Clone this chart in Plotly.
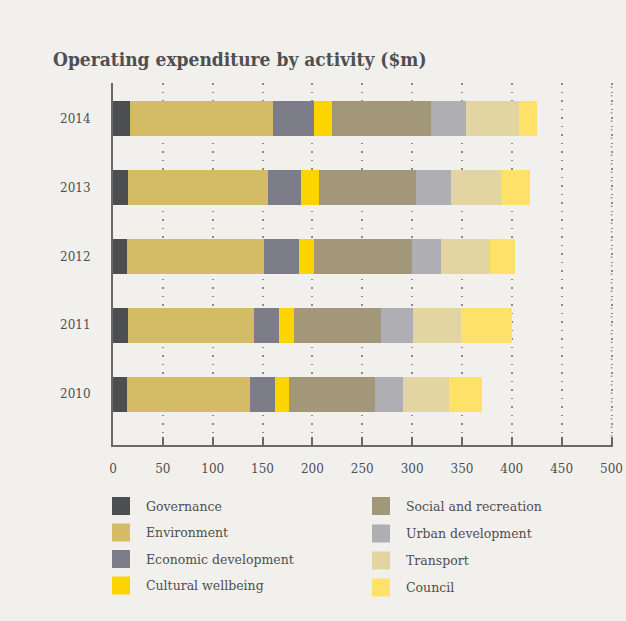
import plotly.graph_objects as go

# Operating expenditure ($m) by activity, per year
years = ["2010", "2011", "2012", "2013", "2014"]
activities = [
    "Governance", "Environment", "Economic development", "Cultural wellbeing",
    "Social and recreation", "Urban development", "Transport", "Council",
]
governance = [14, 15, 14, 15, 17]
environment = [123, 126, 137, 140.5, 143]
economic_development = [25, 25, 35.5, 33, 41.5]
cultural_wellbeing = [14.5, 15.5, 15.5, 18, 18.5]
social_recreation = [86, 87, 98, 97, 99]
urban_development = [28.5, 32, 29, 36, 35]
transport = [46.5, 49, 49.5, 51, 53]
council = [32.5, 51, 25, 28, 18]
x_ticks = [0, 50, 100, 150, 200, 250, 300, 350, 400, 450, 500]

series = [governance, environment, economic_development, cultural_wellbeing,
          social_recreation, urban_development, transport, council]
colors = ["#4c4e50", "#d4bb66", "#7c7d88", "#fcd400",
          "#a3977a", "#afaeb2", "#e3d5a1", "#fde169"]

BG = "#f2f0ed"
TXT = "#4e4e50"
BODY_FONT = "DejaVu Serif"
GRID = "#8a8a8a"
GRID_DASH = "1.5px,7px"

W, H = 626, 621
L, R, T, B = 113, 13, 83, 176
pw, ph = W - L - R, H - T - B

fig = go.Figure()
for name, vals, col in zip(activities, series, colors):
    fig.add_trace(go.Bar(
        y=years, x=vals, name=name, orientation="h",
        marker=dict(color=col, line=dict(width=0)),
        width=0.51, showlegend=False,
    ))

fig.update_layout(
    barmode="stack",
    width=W, height=H,
    margin=dict(l=L, r=R, t=T, b=B, pad=0, autoexpand=False),
    paper_bgcolor=BG, plot_bgcolor=BG,
    font=dict(family=BODY_FONT, color=TXT, size=12),
    title=dict(
        text="<b>Operating expenditure by activity ($m)</b>",
        font=dict(family="DejaVu Serif Condensed", size=19, color="#4f4f51"),
        x=53 / W, xanchor="left", xref="container",
        y=1 - 59 / H, yanchor="middle", yref="container",
    ),
    xaxis=dict(
        range=[0, 501.5], tickvals=x_ticks, ticktext=[str(v) for v in x_ticks],
        showgrid=True, gridcolor=GRID, gridwidth=1.5, griddash=GRID_DASH,
        zeroline=False, automargin=False,
        showline=True, linecolor="#6a6868", linewidth=2,
        ticks="inside", ticklen=8, tickwidth=2, tickcolor="#6a6868",
        ticklabelstandoff=12,
        tickfont=dict(size=12, color=TXT),
        fixedrange=True,
    ),
    yaxis=dict(
        type="category", categoryorder="array", categoryarray=years,
        range=[-0.74, 4.52],
        showgrid=False, zeroline=False, automargin=False,
        showline=True, linecolor="#6a6868", linewidth=2,
        ticks="", ticklabelstandoff=18,
        tickfont=dict(size=12, color=TXT),
        fixedrange=True,
    ),
)

# Outermost gridline at the end of the scale
fig.add_shape(
    type="line", xref="x", yref="paper",
    x0=x_ticks[-1], x1=x_ticks[-1], y0=0, y1=1,
    line=dict(color=GRID, width=1.5, dash=GRID_DASH), layer="below",
)

# Two-column key below the chart
def px_x(px):
    return (px - L) / pw

def px_y(py):
    return (H - B - py) / ph

left_rows = [506, 532.5, 559, 585.5]
right_rows = [506, 533.5, 560.5, 587.5]
positions = ([(112, y) for y in left_rows] + [(372, y) for y in right_rows])
for name, col, (sx, sy) in zip(activities, colors, positions):
    fig.add_shape(
        type="rect", xref="paper", yref="paper",
        x0=px_x(sx), x1=px_x(sx + 18), y0=px_y(sy - 9), y1=px_y(sy + 9),
        fillcolor=col, line=dict(width=0), layer="above",
    )
    fig.add_annotation(
        xref="paper", yref="paper", x=px_x(sx + 32), y=px_y(sy),
        text=name, showarrow=False, xanchor="left", yanchor="middle",
        font=dict(family=BODY_FONT, size=12.5, color=TXT),
    )

fig.write_html("out.html")
